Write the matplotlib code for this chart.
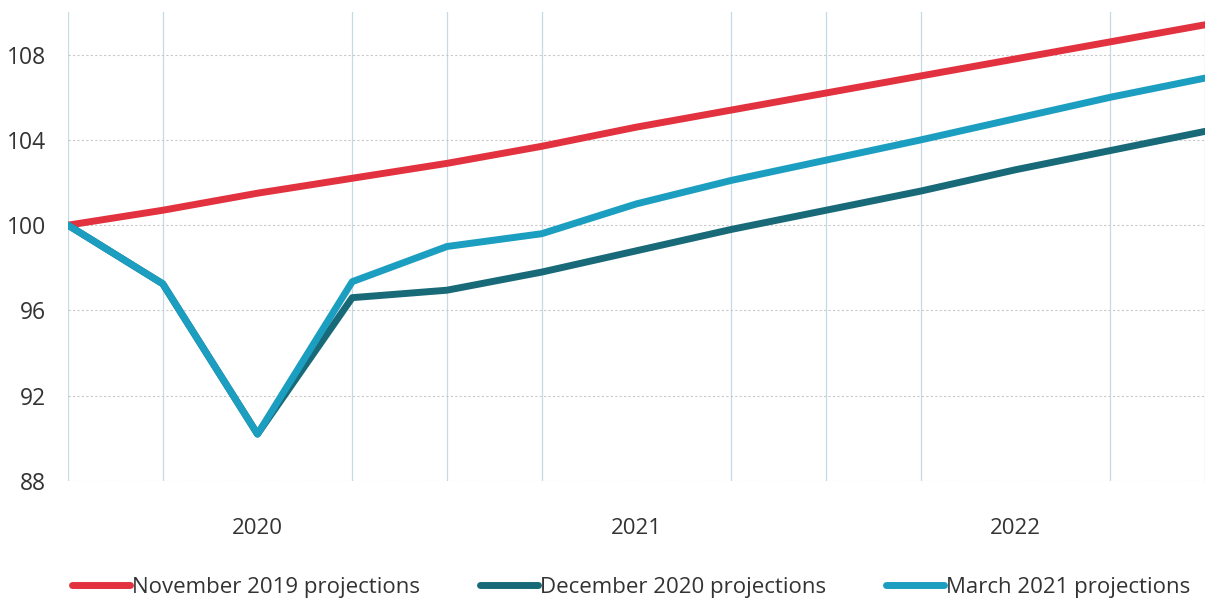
import matplotlib.pyplot as plt

# datos trimestrales, 2019T4 a 2022T4 (indice 100 = 2019T4)
quarters = ['2019Q4', '2020Q1', '2020Q2', '2020Q3', '2020Q4',
            '2021Q1', '2021Q2', '2021Q3', '2021Q4',
            '2022Q1', '2022Q2', '2022Q3', '2022Q4']
nov_2019 = [100, 100.7, 101.5, 102.2, 102.9, 103.7, 104.6, 105.4, 106.2, 107.0, 107.8, 108.6, 109.4]
dec_2020 = [100, 97.25, 90.2, 96.6, 96.95, 97.8, 98.8, 99.8, 100.7, 101.6, 102.6, 103.5, 104.4]
mar_2021 = [100, 97.25, 90.2, 97.35, 99.0, 99.6, 101.0, 102.1, 103.05, 104.0, 105.0, 106.0, 106.9]

year_labels = ['2020', '2021', '2022']
year_pos = [2, 6, 10]
y_ticks = [88, 92, 96, 100, 104, 108]

plt.rcParams['font.family'] = ['Open Sans', 'DejaVu Sans']

fig = plt.figure(figsize=(12.09, 5.98), dpi=100)
ax = fig.add_axes([68 / 1209, 1 - 481 / 598, (1205 - 68) / 1209, (481 - 12) / 598])

x = list(range(len(quarters)))
ax.plot(x, nov_2019, color='#e2323f', lw=5, solid_capstyle='round', label='November 2019 projections', zorder=3)
ax.plot(x, dec_2020, color='#186a79', lw=5, solid_capstyle='round', label='December 2020 projections', zorder=3)
ax.plot(x, mar_2021, color='#1b9ec0', lw=5, solid_capstyle='round', label='March 2021 projections', zorder=4)

ax.set_xlim(0, len(quarters) - 1)
ax.set_ylim(88, 110)
ax.set_yticks(y_ticks)
ax.set_xticks(year_pos)
ax.set_xticklabels(year_labels)
ax.set_xticks(x, minor=True)

ax.grid(axis='y', which='major', color='#c9c9c9', lw=0.8, ls=(0, (2, 2)))
ax.grid(axis='x', which='minor', color='#c6d9e6', lw=0.9)
ax.tick_params(which='both', length=0)
ax.tick_params(axis='y', labelsize=16.5, pad=16, labelcolor='#333333')
ax.tick_params(axis='x', labelsize=16, pad=27, labelcolor='#333333')
for s in ax.spines.values():
    s.set_visible(False)

fig.legend(loc='center', bbox_to_anchor=(0.522, 0.018), ncol=3, frameon=False,
           fontsize=16, handlelength=2.6, handletextpad=0.1, columnspacing=2.7,
           labelcolor='#333333')

fig.savefig('out.png', dpi=100)
